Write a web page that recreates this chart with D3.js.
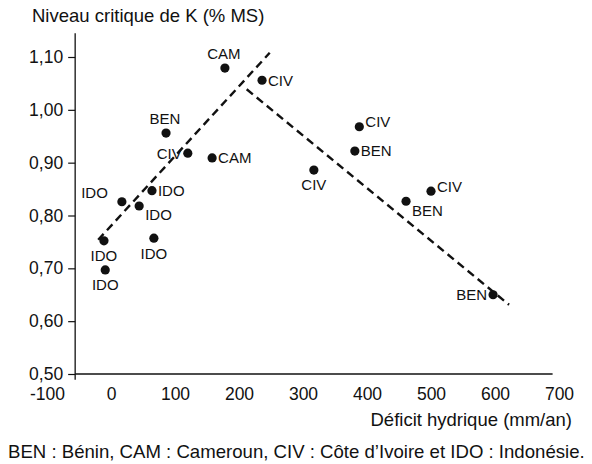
<!DOCTYPE html>
<html>
<head>
<meta charset="utf-8">
<script src="https://cdn.jsdelivr.net/npm/d3@7"></script>
<style>
  body { margin: 0; background: #fff; }
  text { font-family: "Liberation Sans", Arial, Helvetica, sans-serif; fill: #111; }
</style>
</head>
<body>
<svg width="592" height="464"></svg>
<script>
// donnees
const pays   = ["IDO", "IDO", "IDO", "IDO", "IDO", "IDO", "CAM", "CIV", "BEN", "CIV", "CAM", "CIV", "BEN", "CIV", "CIV", "BEN", "BEN"];
const deficit = [17, 64, 44, 67, -11, -9, 178, 236, 86, 120, 158, 388, 381, 317, 500, 461, 597];
const niveauK = [0.826, 0.847, 0.818, 0.757, 0.752, 0.697, 1.079, 1.056, 0.956, 0.918, 0.909, 0.968, 0.922, 0.886, 0.846, 0.827, 0.650];
const placeEtiq = ["upleft", "right", "downright", "below", "below", "below", "above", "right", "above", "left", "right", "upright", "right", "below", "upright", "downright", "left"];

// droites de tendance (extremites)
const tendance1 = [[-20, 0.754], [248, 1.108]];
const tendance2 = [[212, 1.039], [622, 0.631]];

const xTicks = [-100, 0, 100, 200, 300, 400, 500, 600, 700];
const yTicks = [0.5, 0.6, 0.7, 0.8, 0.9, 1.0, 1.1];

const svg = d3.select("svg");

const x = d3.scaleLinear().domain([-100, 700]).range([47, 559]);
const y = d3.scaleLinear().domain([0.5, 1.1]).range([374, 57]);

const fmt = d => d.toFixed(2).replace(".", ",");
const axeX = x(-56);

// axe vertical
svg.append("line")
  .attr("x1", axeX).attr("x2", axeX)
  .attr("y1", y(1.145)).attr("y2", y(0.489))
  .attr("stroke", "#111").attr("stroke-width", 1.3);

// axe horizontal
svg.append("line")
  .attr("x1", axeX).attr("x2", x(690))
  .attr("y1", y(0.5)).attr("y2", y(0.5))
  .attr("stroke", "#111").attr("stroke-width", 1.3);

const gy = svg.append("g")
  .attr("transform", `translate(${axeX},0)`)
  .call(d3.axisLeft(y).tickValues(yTicks).tickFormat(fmt).tickSize(7).tickPadding(5));
gy.select(".domain").remove();
gy.selectAll(".tick line").attr("stroke", "#111").attr("stroke-width", 1.2);
gy.selectAll("text").attr("font-size", 17.5).attr("font-family", null).style("fill", "#111");

const gx = svg.append("g")
  .attr("transform", `translate(0,${y(0.5)})`)
  .call(d3.axisBottom(x).tickValues(xTicks).tickFormat(d => String(d)).tickSize(0).tickPadding(14));
gx.select(".domain").remove();
gx.selectAll("text").attr("font-size", 17.5).attr("font-family", null).style("fill", "#111");

// tendances en pointille
[tendance1, tendance2].forEach(t => {
  svg.append("line")
    .attr("x1", x(t[0][0])).attr("y1", y(t[0][1]))
    .attr("x2", x(t[1][0])).attr("y2", y(t[1][1]))
    .attr("stroke", "#111").attr("stroke-width", 2.4)
    .attr("stroke-dasharray", "8,5");
});

const points = pays.map((p, i) => ({ pays: p, x: deficit[i], y: niveauK[i], place: placeEtiq[i] }));

svg.selectAll("circle.pt")
  .data(points)
  .enter().append("circle")
  .attr("class", "pt")
  .attr("cx", d => x(d.x))
  .attr("cy", d => y(d.y))
  .attr("r", 4.6)
  .attr("fill", "#111");

const offsets = {
  right:     { dx: 6,   dy: 0,   anchor: "start" },
  upright:   { dx: 6,   dy: -5,  anchor: "start" },
  downright: { dx: 6,   dy: 9,   anchor: "start" },
  left:      { dx: -6,  dy: 0,   anchor: "end" },
  upleft:    { dx: -14, dy: -9,  anchor: "end" },
  above:     { dx: -1,  dy: -14, anchor: "middle" },
  below:     { dx: 0,   dy: 15,  anchor: "middle" }
};

svg.selectAll("text.lab")
  .data(points)
  .enter().append("text")
  .attr("class", "lab")
  .attr("x", d => x(d.x) + offsets[d.place].dx)
  .attr("y", d => y(d.y) + offsets[d.place].dy)
  .attr("dy", "0.36em")
  .attr("text-anchor", d => offsets[d.place].anchor)
  .attr("font-size", 15)
  .text(d => d.pays);

svg.append("text")
  .attr("x", 32).attr("y", 22)
  .attr("font-size", 18.5)
  .text("Niveau critique de K (% MS)");

svg.append("text")
  .attr("x", 572).attr("y", 426)
  .attr("text-anchor", "end")
  .attr("font-size", 18.5)
  .text("Déficit hydrique (mm/an)");

svg.append("text")
  .attr("x", 8).attr("y", 458)
  .attr("font-size", 18.6)
  .text("BEN : Bénin, CAM : Cameroun, CIV : Côte d’Ivoire et IDO : Indonésie.");
</script>
</body>
</html>
